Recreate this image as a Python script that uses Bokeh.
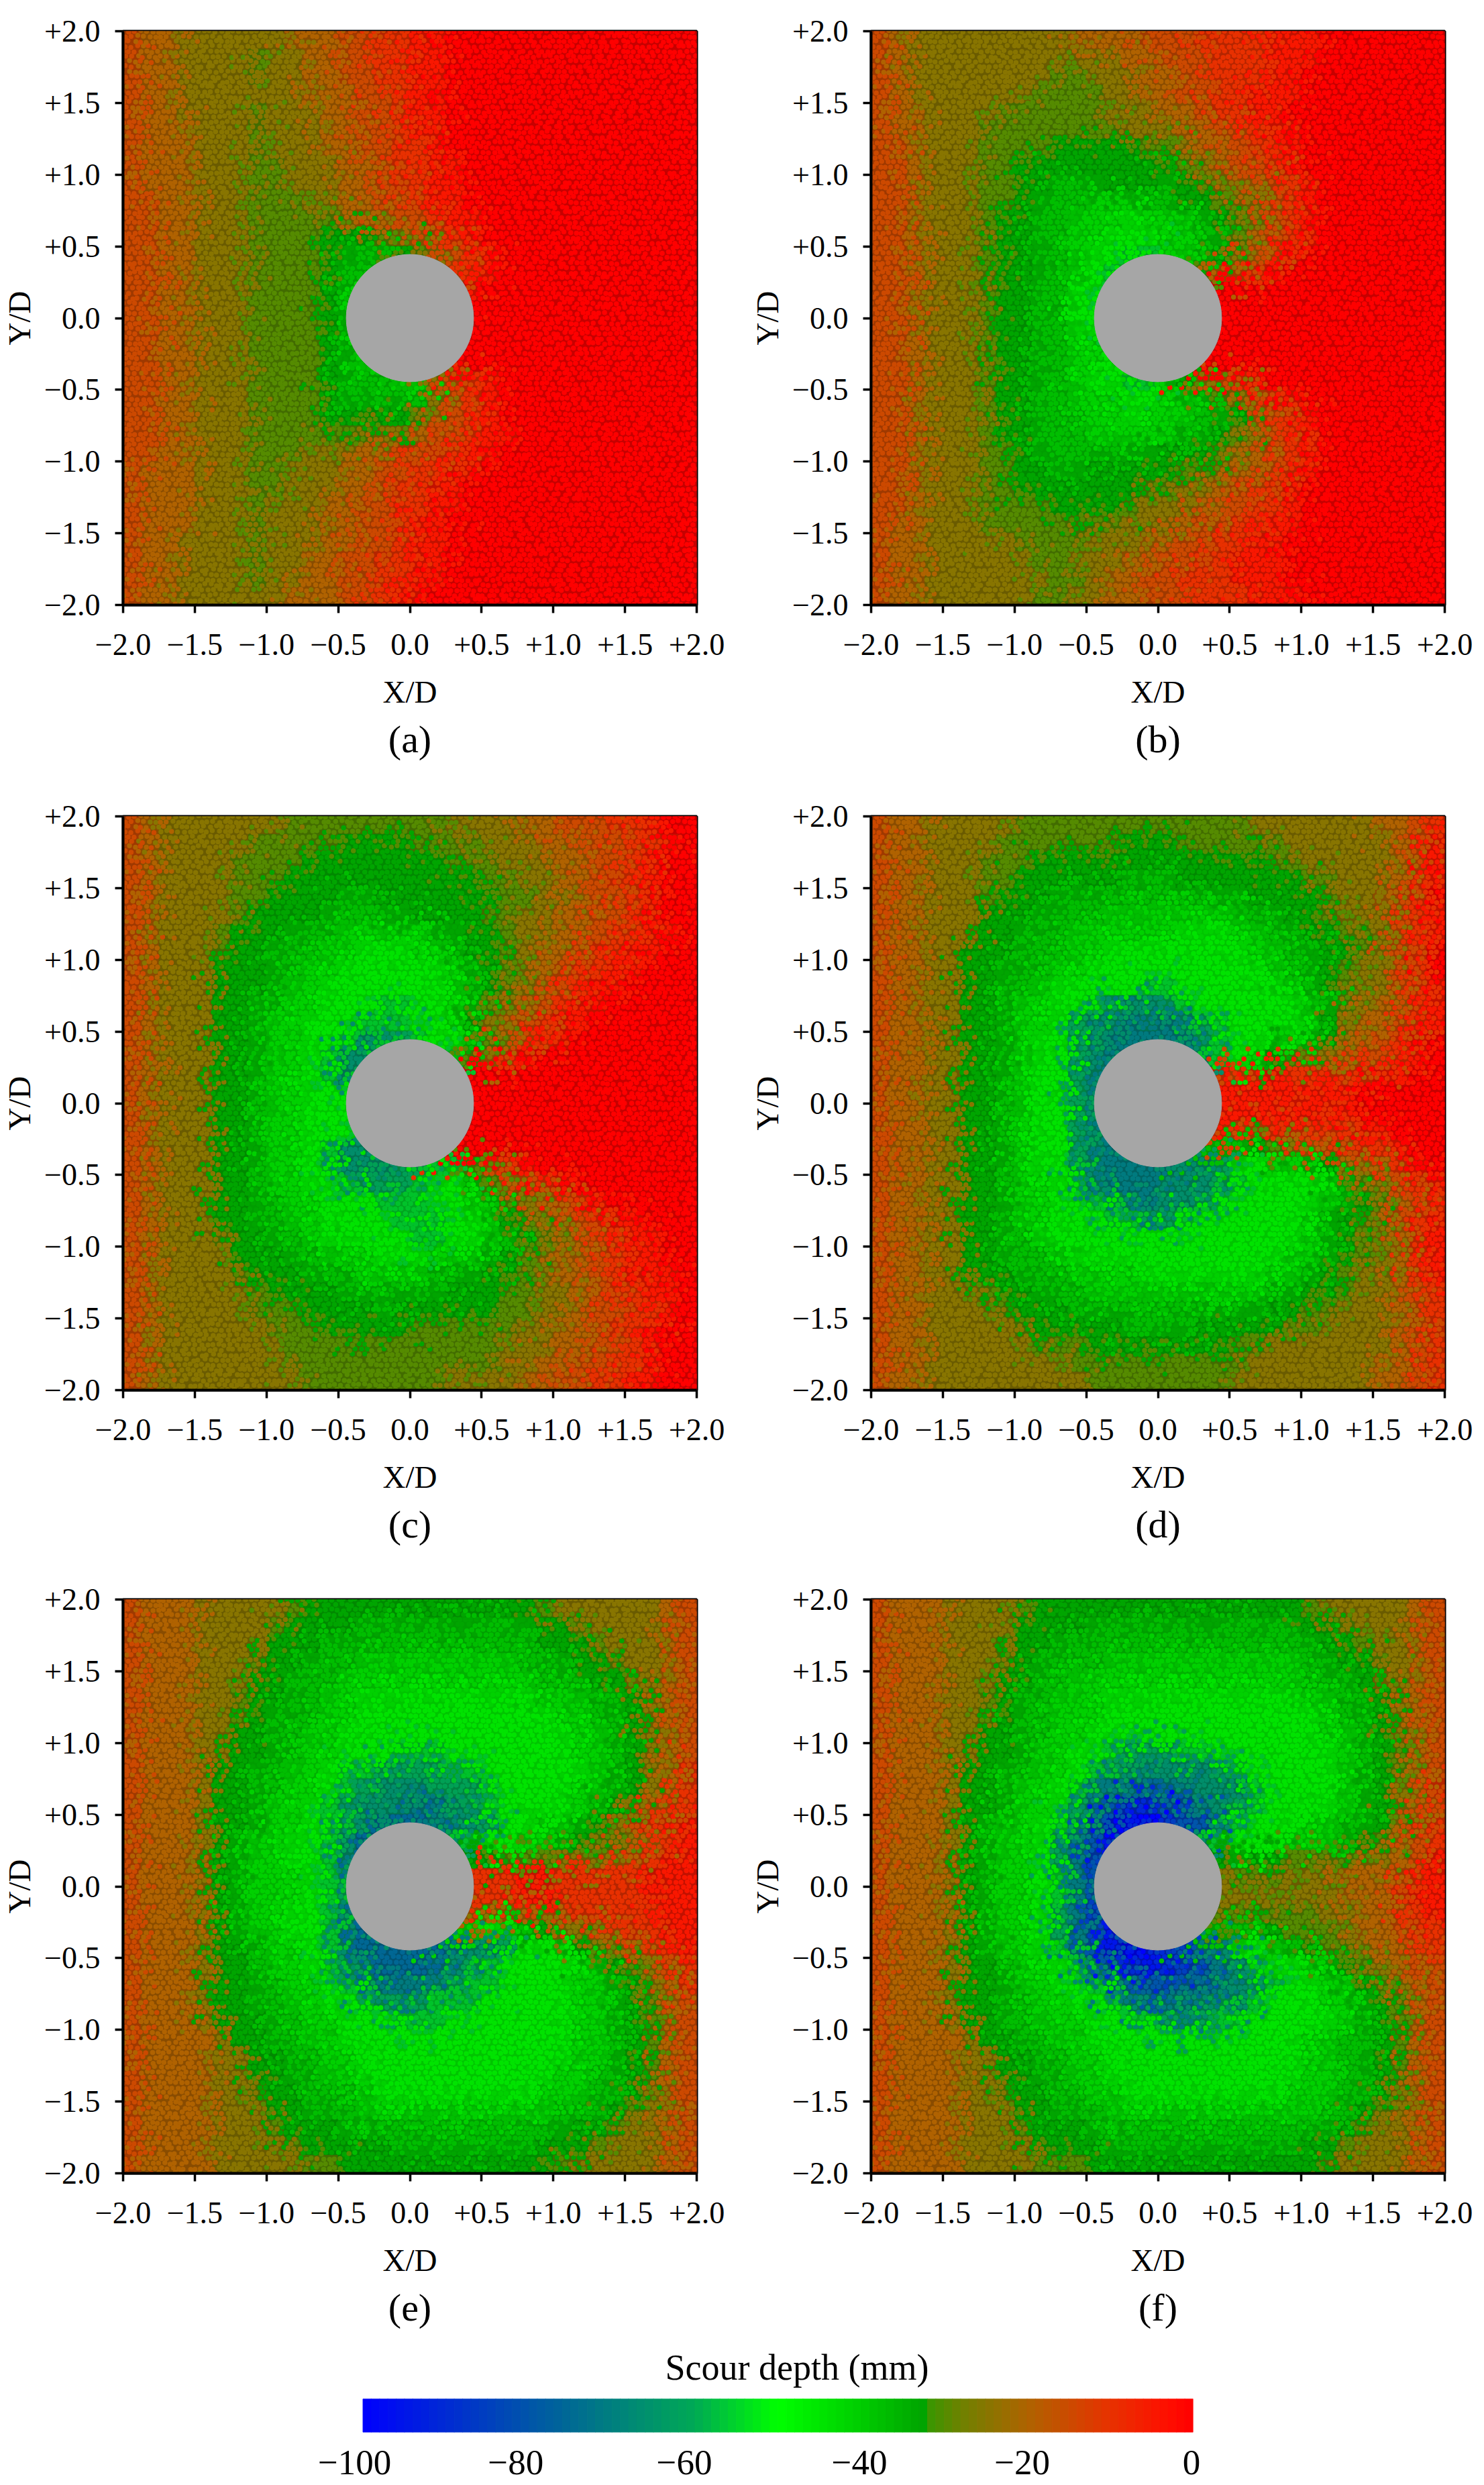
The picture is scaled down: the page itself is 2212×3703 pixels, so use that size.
import numpy as np

from bokeh.embed import file_html
from bokeh.layouts import column, row
from bokeh.models import ColumnDataSource, FixedTicker, LinearColorMapper, Range1d, Title
from bokeh.plotting import figure
from bokeh.resources import INLINE
from bokeh.transform import transform

# scour depth, one character per 0.125 D cell, rows from Y/D = +2 down.
# character value (base 21) times -5 gives the depth in mm
depth_a = [
    "34455555544433221100000000000000", "34455556554433221100000000000000",
    "34455556554433221100000000000000", "34455555554443321100000000000000",
    "34455556555443321100000000000000", "34445556555443321100000000000000",
    "34445556555443322100000000000000", "34445556655544322110000000000000",
    "34445556655544322110000000000000", "33445556665544332110000000000000",
    "33445556666654433211000000000000", "33445556666777654321000000000000",
    "33445556666788876532100000000000", "33445556666788899532100000000000",
    "33445556666789999111000000000000", "33445556666789999000000000000000",
    "33445556666789999000000000000000", "33445556666789999000000000000000",
    "33445556666789999110000000000000", "33445556666788899532100000000000",
    "33445556666788888532100000000000", "33445556666777776432100000000000",
    "33445556666666554332110000000000", "33445556665554433221100000000000",
    "34445556655544332211000000000000", "34445556655544322110000000000000",
    "34445556555443322110000000000000", "34445556555443321100000000000000",
    "34455556555443321100000000000000", "34455556554433221100000000000000",
    "34455556554433221100000000000000", "34455555544433211000000000000000",
]
depth_b = [
    "34555555555444433322221110000000", "34555555555555443332221110000000",
    "34555555556655544332221100000000", "34555555566665544332211100000000",
    "34455556666665554432211000000000", "34455566666666555443321100000000",
    "33455566667777766544322100000000", "33455566777777777654332100000000",
    "33455566778887778765443210000000", "33455566788899988776553210000000",
    "33455567788999a99987653210000000", "3345556778899aaa9988643210000000",
    "334555677889aabb9987543100000000", "334555677889abbb9964321000000000",
    "33455567788aabbb1100000000000000", "33455567788aabbb0000000000000000",
    "33455567788aabbb0000000000000000", "3345556778899abb0000000000000000",
    "3345556778899abb1100000000000000", "334555677889aabb9753210000000000",
    "33455567788999aa9986532100000000", "33455567788899a99988743210000000",
    "33455567788899999887653210000000", "33455566788888887776543210000000",
    "33455566778877777665443210000000", "33455566777777766554332100000000",
    "33455566667777655544322100000000", "34455566666666555433221100000000",
    "34455555666655544332211000000000", "34455555566555443322111000000000",
    "34455555556654433222111000000000", "34455555566554433322211100000000",
]
depth_c = [
    "34555555566666666655554433322100", "34555556666677776666555444332210",
    "34555566667777777766655544332100", "34555566677777777777665544322100",
    "34555566777788777777766554332100", "34555567777888887777665544332100",
    "34555677788899999887765544322110", "3455567788899aaa9987765443221100",
    "345557778899aaaaaa98765432211000", "34555777899aaaaaaa98765432110000",
    "34555778899aaabbaa98654321100000", "3455577899aaabbbaa97543211000000",
    "3455577899aabdccbaa8653210000000", "3455577899abdddbbbb6421000000000",
    "3455577899abddcc1100000000000000", "3455577899aaabbb0000000000000000",
    "3455577899aaabbb0000000000000000", "3455577899aaabbb1000000000000000",
    "3455577899abddcc2100000000000000", "3455577899abdddccbb6321000000000",
    "3455577899aabcccbaa8643210000000", "34555778899aaabbbaa9865432100000",
    "34555778899aaaabbbaa976543211000", "34555677889aaaaabbaa987654321100",
    "34555577788999aaa999876544321100", "34555567778889999888776544321110",
    "34555556777788888877766554322110", "34555556667777877777766554332210",
    "34555555666777776666665544322100", "34555555566666666666655544332100",
    "34555555566666666666655443322100", "34555555556666666655554433221100",
]
depth_d = [
    "34455555666666666666655555554432", "34455556666666777666666555555431",
    "34455566677777777777776655555431", "34455566777777888777777766555421",
    "34455567778888888888877776554320", "34455577788889999999988776555321",
    "34455577888999999aaa998877665321", "3445577788899aaaaaaaa99887765320",
    "344557788899aaaaaaaaaa9887655320", "3445577889aaaaabbaaaaaa987655321",
    "3445577899aabcddcbaaaaaa98654421", "3445577899acddededcbaaaa97544321",
    "344557789aacdeeeeecbaa9987543210", "344557789aacdeeeeedba97655433210",
    "344557789aacdeee3332321222221100", "344557789aacdeee1111111111100000",
    "344557789aacdeee1111111111100000", "344557789aacdeee3332332222211000",
    "344557789aacdeee8888876543322100", "344557789aacdeeeeddcaa9987544210",
    "3445577899abdeeedddcbaaaa9865321", "3445577899aabcdeddcbaaaaa9876432",
    "3445577899aaabbccbaaaaaa98765321", "344557788aaaaaaaaaaaaaaa98765421",
    "34455778889aaaaaaaaaaaa998765421", "344557778889999aaaaaaa9987655421",
    "34455567788899999999998877655432", "34455556777888888888887766555432",
    "34455555677777888877777665555432", "34455555566677777777665555555432",
    "34455555555666666666655555554432", "34455555555566666666555555554432",
]
depth_e = [
    "34445555567777777777777655555543", "34445555677778888888888776555543",
    "34445555777888888888888777655543", "34445556778889999999998887765543",
    "34445557788899999999999888775543", "3444556778899aaaaaaaaaa999887543",
    "3444556788899aaaaaaaaaaa99887543", "344455778899aaaaaaaaaaaaa9987543",
    "344455778899aaabbbaaaaaaa9987543", "34445778899abbccccbbaaaaaa987542",
    "34445778899abcdddcccbaaaa9987542", "3444577899abcdddeedcbaaaa9875432",
    "3444577899abcdfffeddcaa998753221", "344457899aabdfffffcbaa9987665421",
    "344457899aabdfff7777766655543211", "3444578999abceee2222221122222111",
    "3444578999abceee2222221122222111", "344457899aabdfff4444544432222211",
    "344457899aabdfff9999a98755432211", "3444577899abdfffffeddcaa97654321",
    "3444577899abcdfffedcbaaaa9976532", "34445778899abdeeedcbbaaaa9987542",
    "34445778899aabcccbbbaaaaa9987643", "344457778899aaabbbaaaaaaa9987643",
    "344445778899aaaaaaaaaaaaa9987643", "3444455778899aaaaaaaaaaaa9987643",
    "3444455778899aaaaaaaaaaa99887643", "34444556778889aaaaaaaaa999887543",
    "34444555778889999999999988876543", "34444555677788888888888887765543",
    "34444555567777788888888777655543", "34444555556677777777777765555543",
]
depth_f = [
    "34445555677777777777777765555543", "34445555777788888888888877655543",
    "34445556778888888888888887765543", "34445556788889999999999988776543",
    "34445557788999999999999988875543", "3444556788999aaaaaaaaaaa99887543",
    "3444556788999aaaaaaaaaaaa9887543", "344455778899aaaaaaaaaaaaa9987543",
    "34445577899aabcccbbaaaaaaa987643", "34445778899abcdddddcbaaaaa987643",
    "3444577899abdeefeedddbaaaa987542", "3444577899acegiiggedcbaaaa987543",
    "344457899abdgjkkihgdbaaa99887532", "344457899acegjkjhgdbaaa999876432",
    "344457899acehhjh7777877666655431", "344457899abegggg5555666555444321",
    "344457899abegggg5555555555444211", "344457899acehhjh6666666665544321",
    "344457899acegjjj8888887666544322", "344457899abegjkjihedaa9876654432",
    "3444577899abdgijihgedbaa98765433", "3444577899aabefggffedcbaa9976543",
    "34445778899aabdeeedcdbaaa9987643", "344457788999aabbcccbbaaaaa987643",
    "344445778899aaaaaaaaaaaa99887643", "3444455778899aaaaaaaaaaa99887643",
    "3444455778899aaaaaaaaaaa99887643", "34444556778899aaaaaaaaa999887543",
    "34444555778889999999999998876543", "34444555677788888888888888765543",
    "34444555577778888888888877655543", "34444555566677777777777776555543",
]

panel_names = ["(a)", "(b)", "(c)", "(d)", "(e)", "(f)"]
panel_depths = [depth_a, depth_b, depth_c, depth_d, depth_e, depth_f]

tick_values = [-2.0, -1.5, -1.0, -0.5, 0.0, 0.5, 1.0, 1.5, 2.0]
tick_labels = ["\u22122.0", "\u22121.5", "\u22121.0", "\u22120.5", "0.0", "+0.5", "+1.0", "+1.5", "+2.0"]

cylinder_diameter = 0.888

# colour bar
stop_depth = [-100, -80, -60, -50, -40, -31.7, -31.6, -28, -20, -10, -3, 0]
stop_r = [0, 0, 0, 0, 0, 0, 60, 110, 175, 232, 255, 255]
stop_g = [0, 85, 170, 255, 205, 160, 150, 130, 100, 50, 15, 0]
stop_b = [255, 170, 85, 0, 0, 0, 0, 0, 0, 0, 0, 0]
# grains look a little duller than the bar in the scan
stop_g_grain = [0, 85, 160, 228, 192, 150, 150, 130, 100, 50, 15, 0]
bar_depth = list(range(-100, 0))
bar_tick_x = [-101, -81.6, -61.3, -40.2, -20.6, -0.2]
bar_tick_labels = ["\u2212100", "\u221280", "\u221260", "\u221240", "\u221220", "0"]

FONT = "Liberation Serif"
GREY = "#a6a6a6"


def make_palette(greens):
    levels = np.arange(-100, 0.5, 0.25)
    return ["#%02x%02x%02x" % (int(r), int(g), int(b)) for r, g, b in zip(
        np.interp(levels, stop_depth, stop_r),
        np.interp(levels, stop_depth, greens),
        np.interp(levels, stop_depth, stop_b))]


palette = make_palette(stop_g)
mapper = LinearColorMapper(palette=palette, low=-100, high=0)
grain_mapper = LinearColorMapper(palette=make_palette(stop_g_grain), low=-100, high=0)


def read_grid(rows):
    return np.array([[-5 * int(ch, 21) for ch in line[:32].ljust(32, line[-1])] for line in rows])


def grains(grid):
    # the bed is made of grains: each one takes the depth of a map cell near it,
    # so that neighbouring cells mix at their edges as they do in the scan
    step = 0.0405
    gx, gy, gd = [], [], []
    k = 0
    for n, y0 in enumerate(np.arange(-2, 2.001, step * 0.866)):
        for x0 in np.arange(-2 + (n % 2) * step / 2, 2.001, step):
            k += 1
            u = (k * k * 0.7548777) % 1 - 0.5
            v = (k * k * 0.5698403) % 1 - 0.5
            x = x0 + u * 0.016
            y = y0 + v * 0.016
            if x * x + y * y < 0.19:
                continue
            i = int(np.clip((x + 2 + u * 0.32) / 0.125, 0, 31))
            j = int(np.clip((2 - y - v * 0.32) / 0.125, 0, 31))
            gx.append(x)
            gy.append(y)
            gd.append(int(grid[j, i]))
    return ColumnDataSource(dict(x=gx, y=gy, depth=gd))


def make_panel(name, rows, border_right, border_top, border_bottom):
    grid = read_grid(rows)
    xs, ys, depth = [], [], []
    for j in range(32):
        for i in range(32):
            xs.append(-2 + 0.125 * (i + 0.5))
            ys.append(2 - 0.125 * (j + 0.5))
            depth.append(int(grid[j, i]))
    src = ColumnDataSource(dict(x=xs, y=ys, depth=depth))

    p = figure(frame_width=855, frame_height=855, x_range=Range1d(-2, 2), y_range=Range1d(-2, 2),
               min_border_left=178, min_border_right=border_right,
               min_border_top=border_top, min_border_bottom=border_bottom,
               output_backend="svg", toolbar_location=None, tools="")
    p.rect(x="x", y="y", width=0.125, height=0.125, source=src,
           fill_color=transform("depth", mapper), line_color=transform("depth", mapper), line_width=1)
    p.quad(left=[-2], right=[2], bottom=[-2], top=[2], fill_color="black", fill_alpha=0.22, line_alpha=0)
    p.scatter(x="x", y="y", size=7.5, source=grains(grid), marker="circle",
              fill_color=transform("depth", grain_mapper), line_color=None)
    p.ellipse(x=[0], y=[0], width=cylinder_diameter, height=cylinder_diameter, color=GREY)

    p.grid.visible = False
    p.outline_line_color = "black"
    p.outline_line_width = 4
    for ax, label in ((p.xaxis[0], "X/D"), (p.yaxis[0], "Y/D")):
        ax.ticker = FixedTicker(ticks=tick_values)
        ax.major_label_overrides = dict(zip(tick_values, tick_labels))
        ax.axis_label = label
        ax.axis_label_text_font = FONT
        ax.axis_label_text_font_style = "normal"
        ax.axis_label_text_font_size = "47px"
        ax.axis_label_text_color = "black"
        ax.major_label_text_font = FONT
        ax.major_label_text_font_size = "46px"
        ax.major_label_text_color = "black"
        ax.major_tick_in = 0
        ax.major_tick_out = 12
        ax.major_tick_line_width = 3.5
        ax.minor_tick_line_color = None
        ax.axis_line_width = 4
    p.xaxis[0].major_label_standoff = 31
    p.yaxis[0].major_label_standoff = 22
    p.xaxis[0].axis_label_standoff = 26
    p.yaxis[0].axis_label_standoff = 8

    p.add_layout(Title(text=name, align="center", text_font=FONT, text_font_size="58px",
                       text_font_style="normal", text_color="black", standoff=14), "below")
    return p


plots = []
borders = [(77, 46, 277), (45, 46, 277), (77, 38, 274), (45, 38, 274), (77, 38, 240), (45, 38, 240)]
for name, rows, (br, bt, bb) in zip(panel_names, panel_depths, borders):
    plots.append(make_panel(name, rows, br, bt, bb))

bar = figure(frame_width=1256, frame_height=50, x_range=Range1d(-101.5, 0), y_range=Range1d(0, 1),
             min_border_left=522, min_border_right=20, min_border_top=94, min_border_bottom=75,
             output_backend="svg", toolbar_location=None, tools="")
bar.quad(left=bar_depth, right=[d + 1 for d in bar_depth], bottom=0, top=1,
         fill_color=[palette[(d + 100) * 4 + 2] for d in bar_depth],
         line_color=[palette[(d + 100) * 4 + 2] for d in bar_depth], line_width=1)
bar.grid.visible = False
bar.outline_line_color = None
bar.yaxis.visible = False
bar.xaxis.ticker = FixedTicker(ticks=bar_tick_x)
bar.xaxis.major_label_overrides = dict(zip(bar_tick_x, bar_tick_labels))
bar.xaxis.major_label_text_font = FONT
bar.xaxis.major_label_text_font_size = "53px"
bar.xaxis.major_label_text_color = "black"
bar.xaxis.major_label_standoff = 21
bar.xaxis.major_tick_line_color = None
bar.xaxis.minor_tick_line_color = None
bar.xaxis.axis_line_color = None
bar.add_layout(Title(text="Scour depth (mm)", align="left", offset=469, text_font=FONT, text_font_size="54px",
                     text_font_style="normal", text_color="black", standoff=34), "above")

page = column(row(plots[0], plots[1]), row(plots[2], plots[3]), row(plots[4], plots[5]), bar)
open("out.html", "w").write(file_html(page, INLINE))
